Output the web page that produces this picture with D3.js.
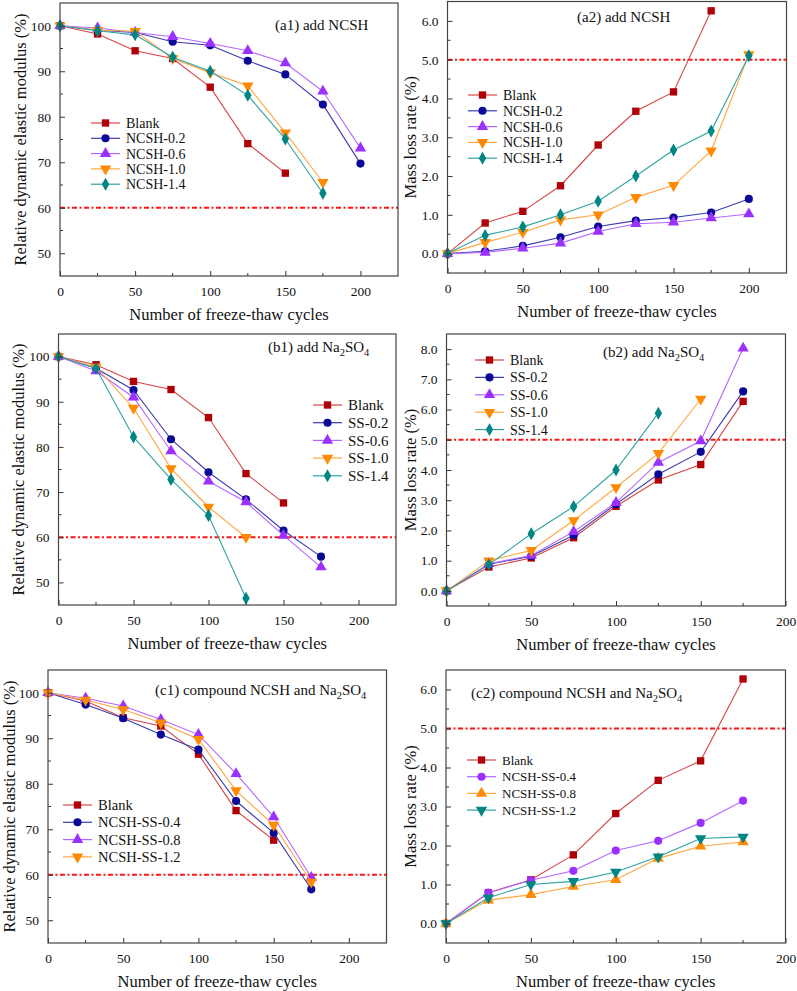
<!DOCTYPE html>
<html>
<head>
<meta charset="utf-8">
<script src="https://cdn.jsdelivr.net/npm/d3@7"></script>
<style>
  body { margin: 0; background: #fff; }
  svg { display: block; }
  svg text { font-family: "Liberation Serif", "Times New Roman", serif; }
</style>
</head>
<body>
<svg id="chart" width="797" height="991"></svg>
<script>
// freeze-thaw cycles
var cycles = [0, 25, 50, 75, 100, 125, 150, 175, 200];

// (a1) relative dynamic elastic modulus, NCSH
var a1Blank = [100, 98.2, 94.5, 92.8, 86.5, 74.1, 67.6];
var a1N02 = [100, 99.0, 98.5, 96.5, 95.7, 92.3, 89.3, 82.7, 69.7];
var a1N06 = [100, 99.5, 98.5, 97.6, 96.1, 94.5, 91.8, 85.6, 73.1];
var a1N10 = [100, 99.0, 98.8, 92.8, 89.7, 86.8, 76.5, 65.6];
var a1N14 = [100, 98.9, 98.0, 93.1, 90.0, 84.7, 75.1, 63.2];

// (a2) mass loss rate, NCSH
var a2Blank = [0, 0.79, 1.09, 1.75, 2.80, 3.67, 4.17, 6.26];
var a2N02 = [0, 0.06, 0.20, 0.42, 0.70, 0.85, 0.93, 1.06, 1.41];
var a2N06 = [0, 0.03, 0.14, 0.27, 0.57, 0.77, 0.81, 0.92, 1.02];
var a2N10 = [0, 0.29, 0.55, 0.87, 1.00, 1.45, 1.76, 2.65, 5.13];
var a2N14 = [0, 0.47, 0.69, 1.00, 1.35, 2.00, 2.67, 3.16, 5.10];

// (b1) relative dynamic elastic modulus, Na2SO4
var b1Blank = [100, 98.2, 94.5, 92.7, 86.5, 74.1, 67.6];
var b1S02 = [100, 97.4, 92.6, 81.7, 74.4, 68.4, 61.5, 55.7];
var b1S06 = [100, 96.8, 91.0, 79.1, 72.4, 67.8, 60.4, 53.4];
var b1S10 = [100, 97.7, 88.6, 75.2, 66.7, 60.0];
var b1S14 = [100, 97.4, 82.2, 72.8, 64.8, 46.5];

// (b2) mass loss rate, Na2SO4
var b2Blank = [0, 0.79, 1.09, 1.76, 2.80, 3.67, 4.18, 6.27];
var b2S02 = [0, 0.88, 1.15, 1.84, 2.87, 3.86, 4.60, 6.60];
var b2S06 = [0, 0.90, 1.17, 1.96, 2.92, 4.25, 4.96, 8.03];
var b2S10 = [0, 1.00, 1.34, 2.33, 3.42, 4.55, 6.35];
var b2S14 = [0, 0.87, 1.89, 2.79, 4.00, 5.88];

// (c1) relative dynamic elastic modulus, compound
var c1Blank = [100, 98.2, 94.5, 92.7, 86.5, 74.1, 67.6];
var c1NS04 = [100, 97.4, 94.4, 90.8, 87.5, 76.2, 69.2, 56.8];
var c1NS08 = [100, 98.8, 97.1, 94.1, 90.8, 82.2, 72.7, 59.4];
var c1NS12 = [100, 98.4, 96.3, 93.4, 89.8, 78.5, 70.9, 58.4];

// (c2) mass loss rate, compound
var c2Blank = [0, 0.79, 1.12, 1.76, 2.82, 3.67, 4.17, 6.27];
var c2NS04 = [0, 0.79, 1.11, 1.35, 1.87, 2.12, 2.58, 3.15];
var c2NS08 = [0, 0.60, 0.74, 0.95, 1.12, 1.67, 1.98, 2.09];
var c2NS12 = [0, 0.66, 1.00, 1.08, 1.32, 1.71, 2.18, 2.22];

var modulusTicks = [50, 60, 70, 80, 90, 100];
var lossTicksA = [0, 1, 2, 3, 4, 5, 6];
var lossTicksB = [0, 1, 2, 3, 4, 5, 6, 7, 8];
var cycleTicks = [0, 50, 100, 150, 200];

var xLabel = 'Number of freeze-thaw cycles';
var modulusLabel = 'Relative dynamic elastic modulus (%)';
var lossLabel = 'Mass loss rate (%)';

var styles = {
    red: {mark: '#b00008', line: '#d64545'},
    blue: {mark: '#0a0a96', line: '#3a3ab0'},
    purple: {mark: '#9b30ff', line: '#b366ff'},
    orange: {mark: '#ff8a00', line: '#ffa640'},
    teal: {mark: '#008585', line: '#2fa3a3'}
};

var shapes = {
    square: d3.symbol().type(d3.symbolSquare).size(54),
    circle: d3.symbol().type(d3.symbolCircle).size(52),
    up: d3.symbol().type(d3.symbolTriangle).size(56),
    down: d3.symbol().type(d3.symbolTriangle).size(56),
    diamond: d3.symbol().type(d3.symbolDiamond).size(48)
};

var panels = [
    {box: [60, 3, 398, 276], xMax: 225, y: [45, 105], yTicks: modulusTicks, fmt: d3.format('d'),
     yLabel: modulusLabel, yLabelX: 20, title: ['(a1) add NCSH'], titleAt: [275, 30], thr: 60,
     legend: {x: 91, y: 123, step: 15.3, size: 14},
     series: [
         {name: 'Blank', v: a1Blank, c: 'red', s: 'square'},
         {name: 'NCSH-0.2', v: a1N02, c: 'blue', s: 'circle'},
         {name: 'NCSH-0.6', v: a1N06, c: 'purple', s: 'up'},
         {name: 'NCSH-1.0', v: a1N10, c: 'orange', s: 'down'},
         {name: 'NCSH-1.4', v: a1N14, c: 'teal', s: 'diamond'}]},
    {box: [447.5, 1.5, 786.5, 273], xMax: 225, y: [-0.5, 6.5], yTicks: lossTicksA, fmt: d3.format('.1f'),
     yLabel: lossLabel, yLabelX: 410, title: ['(a2) add NCSH'], titleAt: [577, 22], thr: 5,
     legend: {x: 468, y: 95, step: 15.8, size: 14},
     series: [
         {name: 'Blank', v: a2Blank, c: 'red', s: 'square'},
         {name: 'NCSH-0.2', v: a2N02, c: 'blue', s: 'circle'},
         {name: 'NCSH-0.6', v: a2N06, c: 'purple', s: 'up'},
         {name: 'NCSH-1.0', v: a2N10, c: 'orange', s: 'down'},
         {name: 'NCSH-1.4', v: a2N14, c: 'teal', s: 'diamond'}]},
    {box: [58.5, 334, 396, 605], xMax: 225, y: [45, 105], yTicks: modulusTicks, fmt: d3.format('d'),
     yLabel: modulusLabel, yLabelX: 18, title: ['(b1) add Na', '2', 'SO', '4'], titleAt: [268, 352], thr: 60,
     legend: {x: 313, y: 405, step: 17.7, size: 15},
     series: [
         {name: 'Blank', v: b1Blank, c: 'red', s: 'square'},
         {name: 'SS-0.2', v: b1S02, c: 'blue', s: 'circle'},
         {name: 'SS-0.6', v: b1S06, c: 'purple', s: 'up'},
         {name: 'SS-1.0', v: b1S10, c: 'orange', s: 'down'},
         {name: 'SS-1.4', v: b1S14, c: 'teal', s: 'diamond'}]},
    {box: [446.5, 334, 785.5, 606], xMax: 200, y: [-0.5, 8.5], yTicks: lossTicksB, fmt: d3.format('.1f'),
     yLabel: lossLabel, yLabelX: 410, title: ['(b2) add Na', '2', 'SO', '4'], titleAt: [603, 357], thr: 5,
     legend: {x: 475, y: 360, step: 17.4, size: 14},
     series: [
         {name: 'Blank', v: b2Blank, c: 'red', s: 'square'},
         {name: 'SS-0.2', v: b2S02, c: 'blue', s: 'circle'},
         {name: 'SS-0.6', v: b2S06, c: 'purple', s: 'up'},
         {name: 'SS-1.0', v: b2S10, c: 'orange', s: 'down'},
         {name: 'SS-1.4', v: b2S14, c: 'teal', s: 'diamond'}]},
    {box: [48, 670, 386.5, 943], xMax: 225, y: [45, 105], yTicks: modulusTicks, fmt: d3.format('d'),
     yLabel: modulusLabel, yLabelX: 9, title: ['(c1) compound NCSH and Na', '2', 'SO', '4'], titleAt: [155, 695], thr: 60,
     legend: {x: 63, y: 805, step: 17.3, size: 14.5},
     series: [
         {name: 'Blank', v: c1Blank, c: 'red', s: 'square'},
         {name: 'NCSH-SS-0.4', v: c1NS04, c: 'blue', s: 'circle'},
         {name: 'NCSH-SS-0.8', v: c1NS08, c: 'purple', s: 'up'},
         {name: 'NCSH-SS-1.2', v: c1NS12, c: 'orange', s: 'down'}]},
    {box: [446, 670, 785.5, 943], xMax: 200, y: [-0.5, 6.5], yTicks: lossTicksA, fmt: d3.format('.1f'),
     yLabel: lossLabel, yLabelX: 410, title: ['(c2) compound NCSH and Na', '2', 'SO', '4'], titleAt: [471, 698], thr: 5,
     legend: {x: 467, y: 760, step: 16.7, size: 13},
     series: [
         {name: 'Blank', v: c2Blank, c: 'red', s: 'square'},
         {name: 'NCSH-SS-0.4', v: c2NS04, c: 'purple', s: 'circle'},
         {name: 'NCSH-SS-0.8', v: c2NS08, c: 'orange', s: 'up'},
         {name: 'NCSH-SS-1.2', v: c2NS12, c: 'teal', s: 'down'}]}
];

var svg = d3.select('#chart');

var drawMarker = function (g, shape, color, x, y) {
    g.append('path')
        .attr('d', shapes[shape]())
        .attr('fill', color)
        .attr('transform', 'translate(' + x + ',' + y + ')' + (shape === 'down' ? ' rotate(180)' : ''));
};

var drawPanel = function (p) {
    var x0 = p.box[0], y0 = p.box[1], x1 = p.box[2], y1 = p.box[3];
    var xScale = d3.scaleLinear().domain([0, p.xMax]).range([x0, x1]);
    var yScale = d3.scaleLinear().domain(p.y).range([y1, y0]);
    var g = svg.append('g');

    // threshold line
    g.append('line')
        .attr('x1', x0).attr('x2', x1)
        .attr('y1', yScale(p.thr)).attr('y2', yScale(p.thr))
        .attr('stroke', '#ff1414').attr('stroke-width', 1.9)
        .attr('stroke-dasharray', '5,2.5,2,2.5');

    // series
    var line = d3.line()
        .x(function (d) { return xScale(d.x); })
        .y(function (d) { return yScale(d.y); });
    p.series.forEach(function (s) {
        var pts = s.v.map(function (v, i) { return {x: cycles[i], y: v}; });
        g.append('path').datum(pts)
            .attr('d', line)
            .attr('fill', 'none')
            .attr('stroke', styles[s.c].line)
            .attr('stroke-width', 1.1);
        pts.forEach(function (d) {
            drawMarker(g, s.s, styles[s.c].mark, xScale(d.x), yScale(d.y));
        });
    });

    // axes, inward ticks
    var xAxis = d3.axisBottom(xScale).tickValues(cycleTicks).tickSizeInner(-5).tickSizeOuter(0).tickPadding(10);
    var yAxis = d3.axisLeft(yScale).tickValues(p.yTicks).tickFormat(p.fmt).tickSizeInner(-5).tickSizeOuter(0).tickPadding(9);
    var xMinor = cycleTicks.map(function (t) { return t + 25; })
        .filter(function (t) { return t < p.xMax; });
    var yStep = p.yTicks[1] - p.yTicks[0];
    var yMinor = p.yTicks.map(function (t) { return t - yStep / 2; })
        .concat([p.yTicks[p.yTicks.length - 1] + yStep / 2])
        .filter(function (t) { return t > p.y[0] && t < p.y[1]; });

    var gx = g.append('g').attr('transform', 'translate(0,' + y1 + ')').call(xAxis);
    var gy = g.append('g').attr('transform', 'translate(' + x0 + ',0)').call(yAxis);
    [gx, gy].forEach(function (a) {
        a.attr('font-family', null);
        a.select('.domain').remove();
        a.selectAll('text').attr('font-size', 13.5).attr('fill', '#111');
        a.selectAll('line').attr('stroke', '#333');
    });
    g.selectAll('.minor-x').data(xMinor).enter().append('line')
        .attr('x1', function (d) { return xScale(d); }).attr('x2', function (d) { return xScale(d); })
        .attr('y1', y1).attr('y2', y1 - 3).attr('stroke', '#333');
    g.selectAll('.minor-y').data(yMinor).enter().append('line')
        .attr('y1', function (d) { return yScale(d); }).attr('y2', function (d) { return yScale(d); })
        .attr('x1', x0).attr('x2', x0 + 3).attr('stroke', '#333');

    // frame
    g.append('rect')
        .attr('x', x0).attr('y', y0)
        .attr('width', x1 - x0).attr('height', y1 - y0)
        .attr('fill', 'none').attr('stroke', '#444').attr('stroke-width', 1.2);

    // axis titles
    g.append('text')
        .attr('x', (x0 + x1) / 2)
        .attr('y', y1 + 44)
        .attr('text-anchor', 'middle')
        .attr('font-size', 16.5).attr('fill', '#111')
        .text(xLabel);
    g.append('text')
        .attr('transform', 'translate(' + p.yLabelX + ',' + (y0 + y1) / 2 + ') rotate(-90)')
        .attr('dy', '0.35em')
        .attr('text-anchor', 'middle')
        .attr('font-size', 16.5).attr('fill', '#111')
        .text(p.yLabel);

    // panel title
    var t = g.append('text')
        .attr('x', p.titleAt[0]).attr('y', p.titleAt[1])
        .attr('font-size', 15).attr('fill', '#111');
    p.title.forEach(function (part, i) {
        var sub = i % 2 === 1;
        t.append('tspan')
            .attr('font-size', sub ? 10.5 : 15)
            .attr('dy', sub ? 4 : (i > 0 ? -4 : 0))
            .text(part);
    });

    // legend
    var lg = g.append('g');
    p.series.forEach(function (s, i) {
        var ly = p.legend.y + i * p.legend.step;
        lg.append('line')
            .attr('x1', p.legend.x).attr('x2', p.legend.x + 29)
            .attr('y1', ly).attr('y2', ly)
            .attr('stroke', styles[s.c].line).attr('stroke-width', 1.2);
        drawMarker(lg, s.s, styles[s.c].mark, p.legend.x + 14.5, ly);
        lg.append('text')
            .attr('x', p.legend.x + 35).attr('y', ly)
            .attr('dy', '0.35em')
            .attr('font-size', p.legend.size).attr('fill', '#111')
            .text(s.name);
    });
};

panels.forEach(drawPanel);
</script>
</body>
</html>
